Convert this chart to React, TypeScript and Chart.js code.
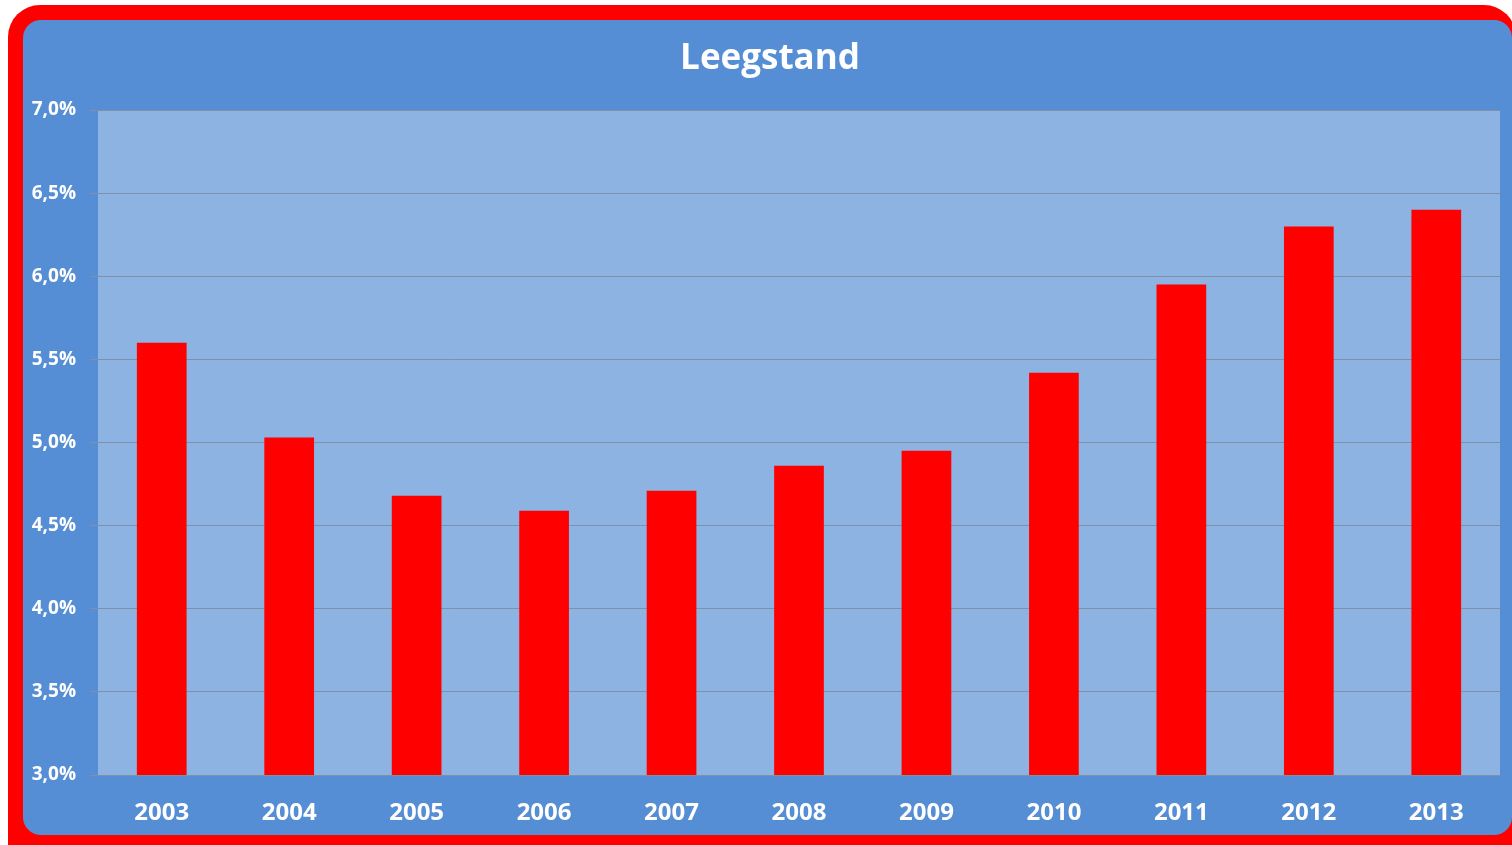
import React, { useEffect, useRef } from "react";
import { Chart, registerables } from "chart.js";

Chart.register(...registerables);

const categories = ["2003", "2004", "2005", "2006", "2007", "2008", "2009", "2010", "2011", "2012", "2013"];
const leegstand = [5.6, 5.03, 4.68, 4.59, 4.71, 4.86, 4.95, 5.42, 5.95, 6.3, 6.4];
const yTickValues = [3.0, 3.5, 4.0, 4.5, 5.0, 5.5, 6.0, 6.5, 7.0];
const yTickLabels = ["3,0%", "3,5%", "4,0%", "4,5%", "5,0%", "5,5%", "6,0%", "6,5%", "7,0%"];
const titleText = "Leegstand";

const plotBg = {
  id: "plotBg",
  beforeDraw(chart: any) {
    const { ctx, chartArea } = chart;
    ctx.save();
    ctx.fillStyle = "#8DB3E2";
    ctx.fillRect(chartArea.left, chartArea.top, chartArea.right - chartArea.left, chartArea.bottom - chartArea.top);
    ctx.restore();
  },
};

const chartTitle = {
  id: "chartTitle",
  afterDraw(chart: any) {
    const { ctx } = chart;
    ctx.save();
    ctx.fillStyle = "#FFFFFF";
    ctx.font = "bold 35px 'Open Sans', sans-serif";
    ctx.textAlign = "center";
    ctx.textBaseline = "middle";
    ctx.fillText(titleText, 770, 59);
    ctx.restore();
  },
};

export default function App() {
  const ref = useRef<HTMLCanvasElement | null>(null);
  useEffect(() => {
    if (!ref.current) return;
    const chart = new Chart(ref.current, {
      type: "bar",
      data: {
        labels: categories,
        datasets: [
          {
            label: titleText,
            data: leegstand,
            backgroundColor: "#FF0000",
            borderWidth: 0,
            barPercentage: 0.39,
            categoryPercentage: 1,
          },
        ],
      },
      options: {
        animation: false,
        responsive: false,
        maintainAspectRatio: false,
        layout: { padding: { left: 0, right: 12, top: 110, bottom: 0 } },
        plugins: {
          legend: { display: false },
          tooltip: { enabled: false },
          title: { display: false },
        },
        scales: {
          x: {
            grid: { display: false },
            border: { display: false },
            ticks: {
              color: "#FFFFFF",
              font: { family: "'Open Sans', sans-serif", size: 24, weight: "bold" },
              padding: 16,
              maxRotation: 0,
            },
            afterFit(scale: any) {
              scale.height = 70;
            },
          },
          y: {
            min: 3,
            max: 7,
            afterBuildTicks(scale: any) {
              scale.ticks = yTickValues.map((v) => ({ value: v }));
            },
            grid: {
              color: "#7F90A8",
              lineWidth: 1,
              drawTicks: true,
              tickLength: 8,
            },
            border: { display: false },
            ticks: {
              color: "#FFFFFF",
              font: { family: "'Open Sans', sans-serif", size: 19, weight: "bold" },
              padding: 14,
              callback: (value: any) => {
                const i = yTickValues.findIndex((v) => Math.abs(v - Number(value)) < 1e-6);
                return i >= 0 ? yTickLabels[i] : "";
              },
            },
            afterFit(scale: any) {
              scale.width = 98;
            },
          },
        },
      },
      plugins: [plotBg, chartTitle],
    });
    return () => chart.destroy();
  }, []);

  return (
    <div
      style={{
        position: "fixed",
        left: 0,
        top: 0,
        width: 1512,
        height: 845,
        overflow: "hidden",
        background: "#FFFFFF",
      }}
    >
      <div
        style={{
          position: "absolute",
          left: 8,
          top: 5,
          width: 1508,
          height: 870,
          background: "#FF0000",
          borderRadius: 32,
        }}
      />
      <div
        style={{
          position: "absolute",
          left: 23,
          top: 20,
          width: 1489,
          height: 815,
          background: "#558ED5",
          borderRadius: 18,
        }}
      />
      <canvas
        ref={ref}
        width={1512}
        height={845}
        style={{ position: "absolute", left: 0, top: 0, width: 1512, height: 845 }}
      />
    </div>
  );
}
